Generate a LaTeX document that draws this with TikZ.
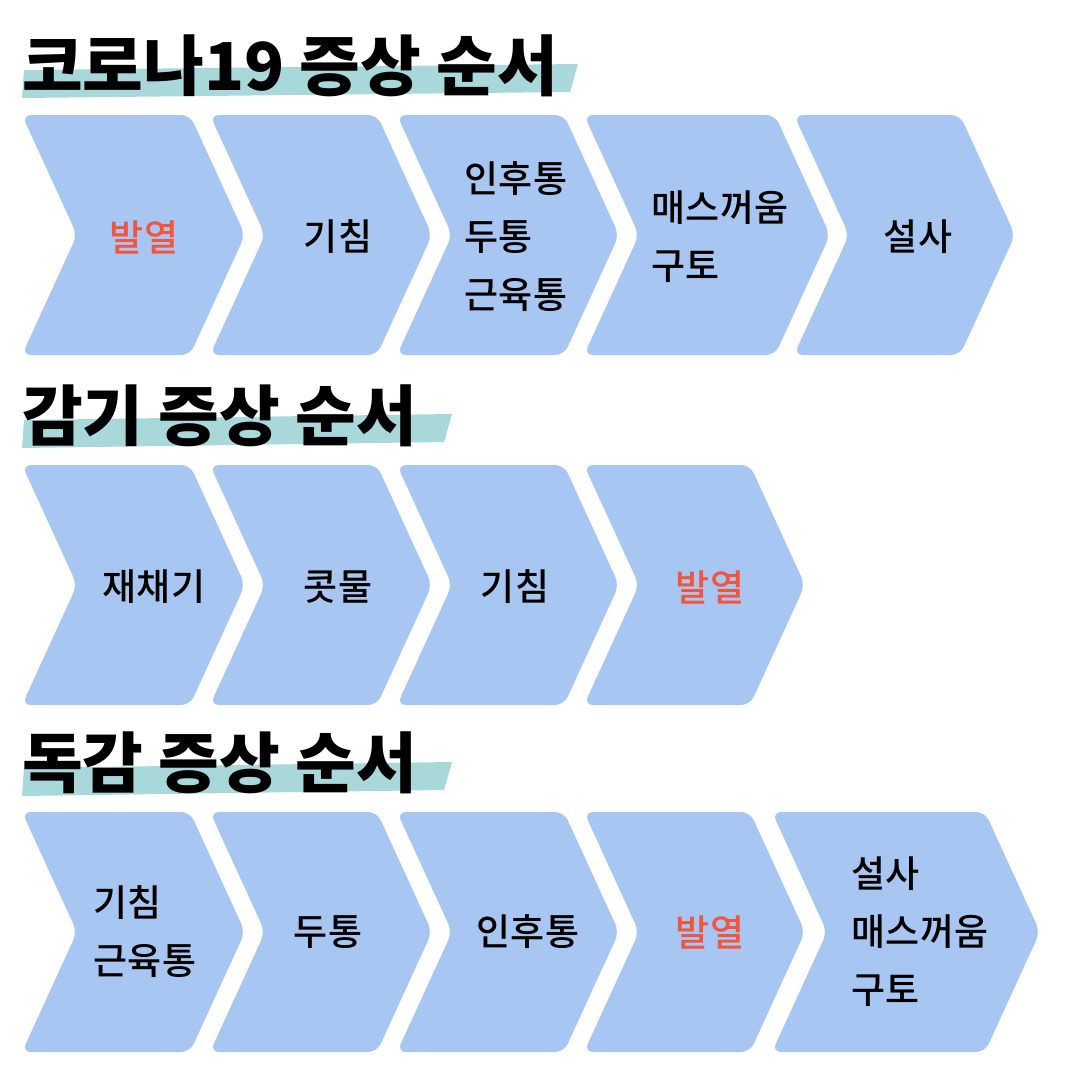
\documentclass[tikz,border=0pt]{standalone}
\usepackage{fontspec}
\newfontfamily\kr{Noto Sans CJK KR Medium}
\newfontfamily\krb{Noto Sans CJK KR Black}
\definecolor{chev}{HTML}{A7C6F2}
\definecolor{hot}{HTML}{F2553F}
\definecolor{brush}{HTML}{A9D8DA}
\tikzset{
 lbl/.style={font=\kr\fontsize{37}{58}\selectfont, align=left, text=black},
 hotlbl/.style={lbl, text=hot},
 ttl/.style={font=\krb\fontsize{66}{66}\selectfont, anchor=base west, inner sep=0pt},
}
\newcommand{\chevshape}[4]{% x0, x1, top, bottom
 \fill[chev, rounded corners=9pt] (#1,#3) -- (#2,#3) -- ({#2+55},{(#3+#4)/2}) -- (#2,#4) -- (#1,#4) -- ({#1+55},{(#3+#4)/2}) -- cycle;}
\begin{document}
\begin{tikzpicture}[x=1pt,y=-1pt]
\useasboundingbox (0,0) rectangle (1080,1080);
% brushes
\fill[brush] (24,70) -- (578,64) -- (570,92) -- (22,98) -- cycle;
\fill[brush] (24,420) -- (452,414) -- (444,442) -- (22,448) -- cycle;
\fill[brush] (24,768) -- (452,762) -- (444,790) -- (22,796) -- cycle;
\node[ttl] (t1) at (22,90) {코로나19 증상 순서};
\node[ttl] (t2) at (22,440) {감기 증상 순서};
\node[ttl] (t3) at (22,787) {독감 증상 순서};
% row 1
\chevshape{22}{190}{115}{355}
\chevshape{210}{377}{115}{355}
\chevshape{397}{564}{115}{355}
\chevshape{584}{775}{115}{355}
\chevshape{794}{960}{115}{355}
\node[hotlbl] (a1) at (144,237) {발열};
\node[lbl] (a2) at (338,237) {기침};
\node[lbl] (a3) at (516,237) {인후통\\두통\\근육통};
\node[lbl] (a4) at (720,237) {매스꺼움\\구토};
\node[lbl] (a5) at (918,237) {설사};
% row 2
\chevshape{22}{190}{465}{705}
\chevshape{210}{377}{465}{705}
\chevshape{397}{564}{465}{705}
\chevshape{584}{750}{465}{705}
\node[lbl] (b1) at (154,587) {재채기};
\node[lbl] (b2) at (338,587) {콧물};
\node[lbl] (b3) at (515,587) {기침};
\node[hotlbl] (b4) at (710,587) {발열};
% row 3
\chevshape{22}{190}{812}{1052}
\chevshape{210}{377}{812}{1052}
\chevshape{397}{564}{812}{1052}
\chevshape{584}{750}{812}{1052}
\chevshape{772}{985}{812}{1052}
\node[lbl] (c1) at (145,932) {기침\\근육통};
\node[lbl] (c2) at (328,932) {두통};
\node[lbl] (c3) at (528,932) {인후통};
\node[hotlbl] (c4) at (710,932) {발열};
\node[lbl] (c5) at (920,932) {설사\\매스꺼움\\구토};
\end{tikzpicture}
\end{document}
